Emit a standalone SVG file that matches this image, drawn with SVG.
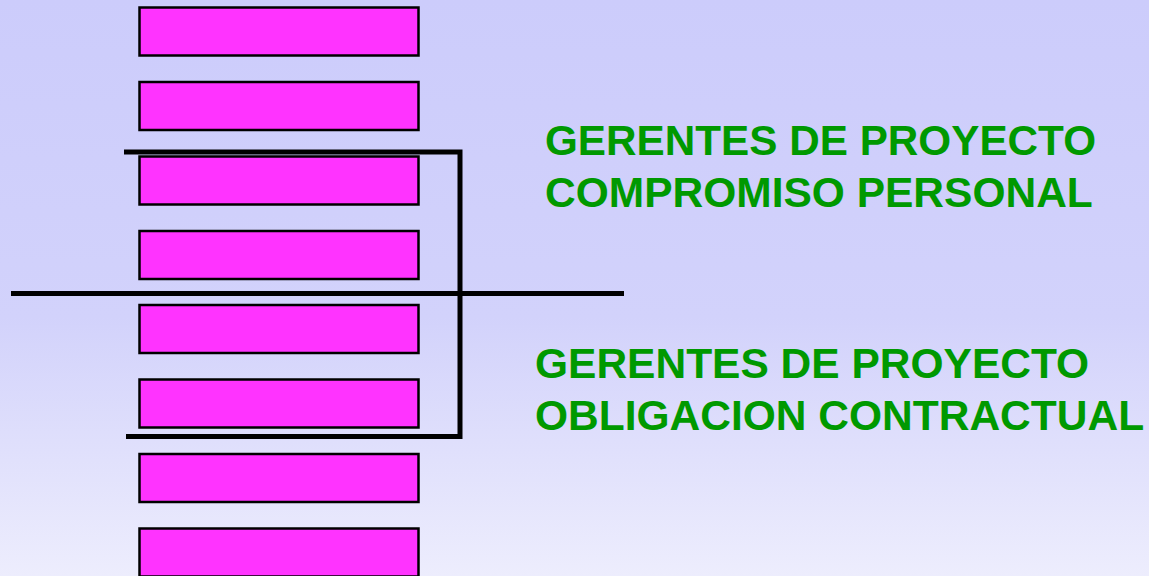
<svg xmlns="http://www.w3.org/2000/svg" width="1149" height="576" viewBox="0 0 1149 576">
  <defs>
    <linearGradient id="bg" x1="0" y1="0" x2="0" y2="1">
      <stop offset="0" stop-color="#CCCCFB"/>
      <stop offset="0.55" stop-color="#D2D2FB"/>
      <stop offset="1" stop-color="#EDEDFD"/>
    </linearGradient>
    <style>
      .bar { fill: #FF33FF; stroke: #000000; stroke-width: 2.5; }
      .ln { stroke: #000000; stroke-width: 5; fill: none; stroke-linecap: butt; }
      .lbl { font-family: "Liberation Sans", Arial, sans-serif; font-weight: bold; font-size: 42.5px; fill: #009900; }
    </style>
  </defs>
  <rect x="0" y="0" width="1149" height="576" fill="url(#bg)"/>

  <g id="bar1"><rect class="bar" x="139.5" y="7.5" width="279" height="48"/></g>
  <g id="bar2"><rect class="bar" x="139.5" y="82" width="279" height="48"/></g>
  <g id="bar3"><rect class="bar" x="139.5" y="156.5" width="279" height="48"/></g>
  <g id="bar4"><rect class="bar" x="139.5" y="231" width="279" height="48"/></g>
  <g id="bar5"><rect class="bar" x="139.5" y="305" width="279" height="48"/></g>
  <g id="bar6"><rect class="bar" x="139.5" y="379.5" width="279" height="48"/></g>
  <g id="bar7"><rect class="bar" x="139.5" y="454" width="279" height="48"/></g>
  <g id="bar8"><rect class="bar" x="139.5" y="528.5" width="279" height="48"/></g>

  <g id="connectors">
    <path class="ln" d="M124 152 H460 V436.5 H126"/>
    <line class="ln" x1="11" y1="293.5" x2="624" y2="293.5"/>
  </g>

  <g id="label-top">
    <text class="lbl" x="545" y="155" textLength="551" lengthAdjust="spacingAndGlyphs">GERENTES DE PROYECTO</text>
    <text class="lbl" x="545" y="207">COMPROMISO PERSONAL</text>
  </g>
  <g id="label-bottom">
    <text class="lbl" x="535" y="378">GERENTES DE PROYECTO</text>
    <text class="lbl" x="535" y="430">OBLIGACION CONTRACTUAL</text>
  </g>
</svg>
